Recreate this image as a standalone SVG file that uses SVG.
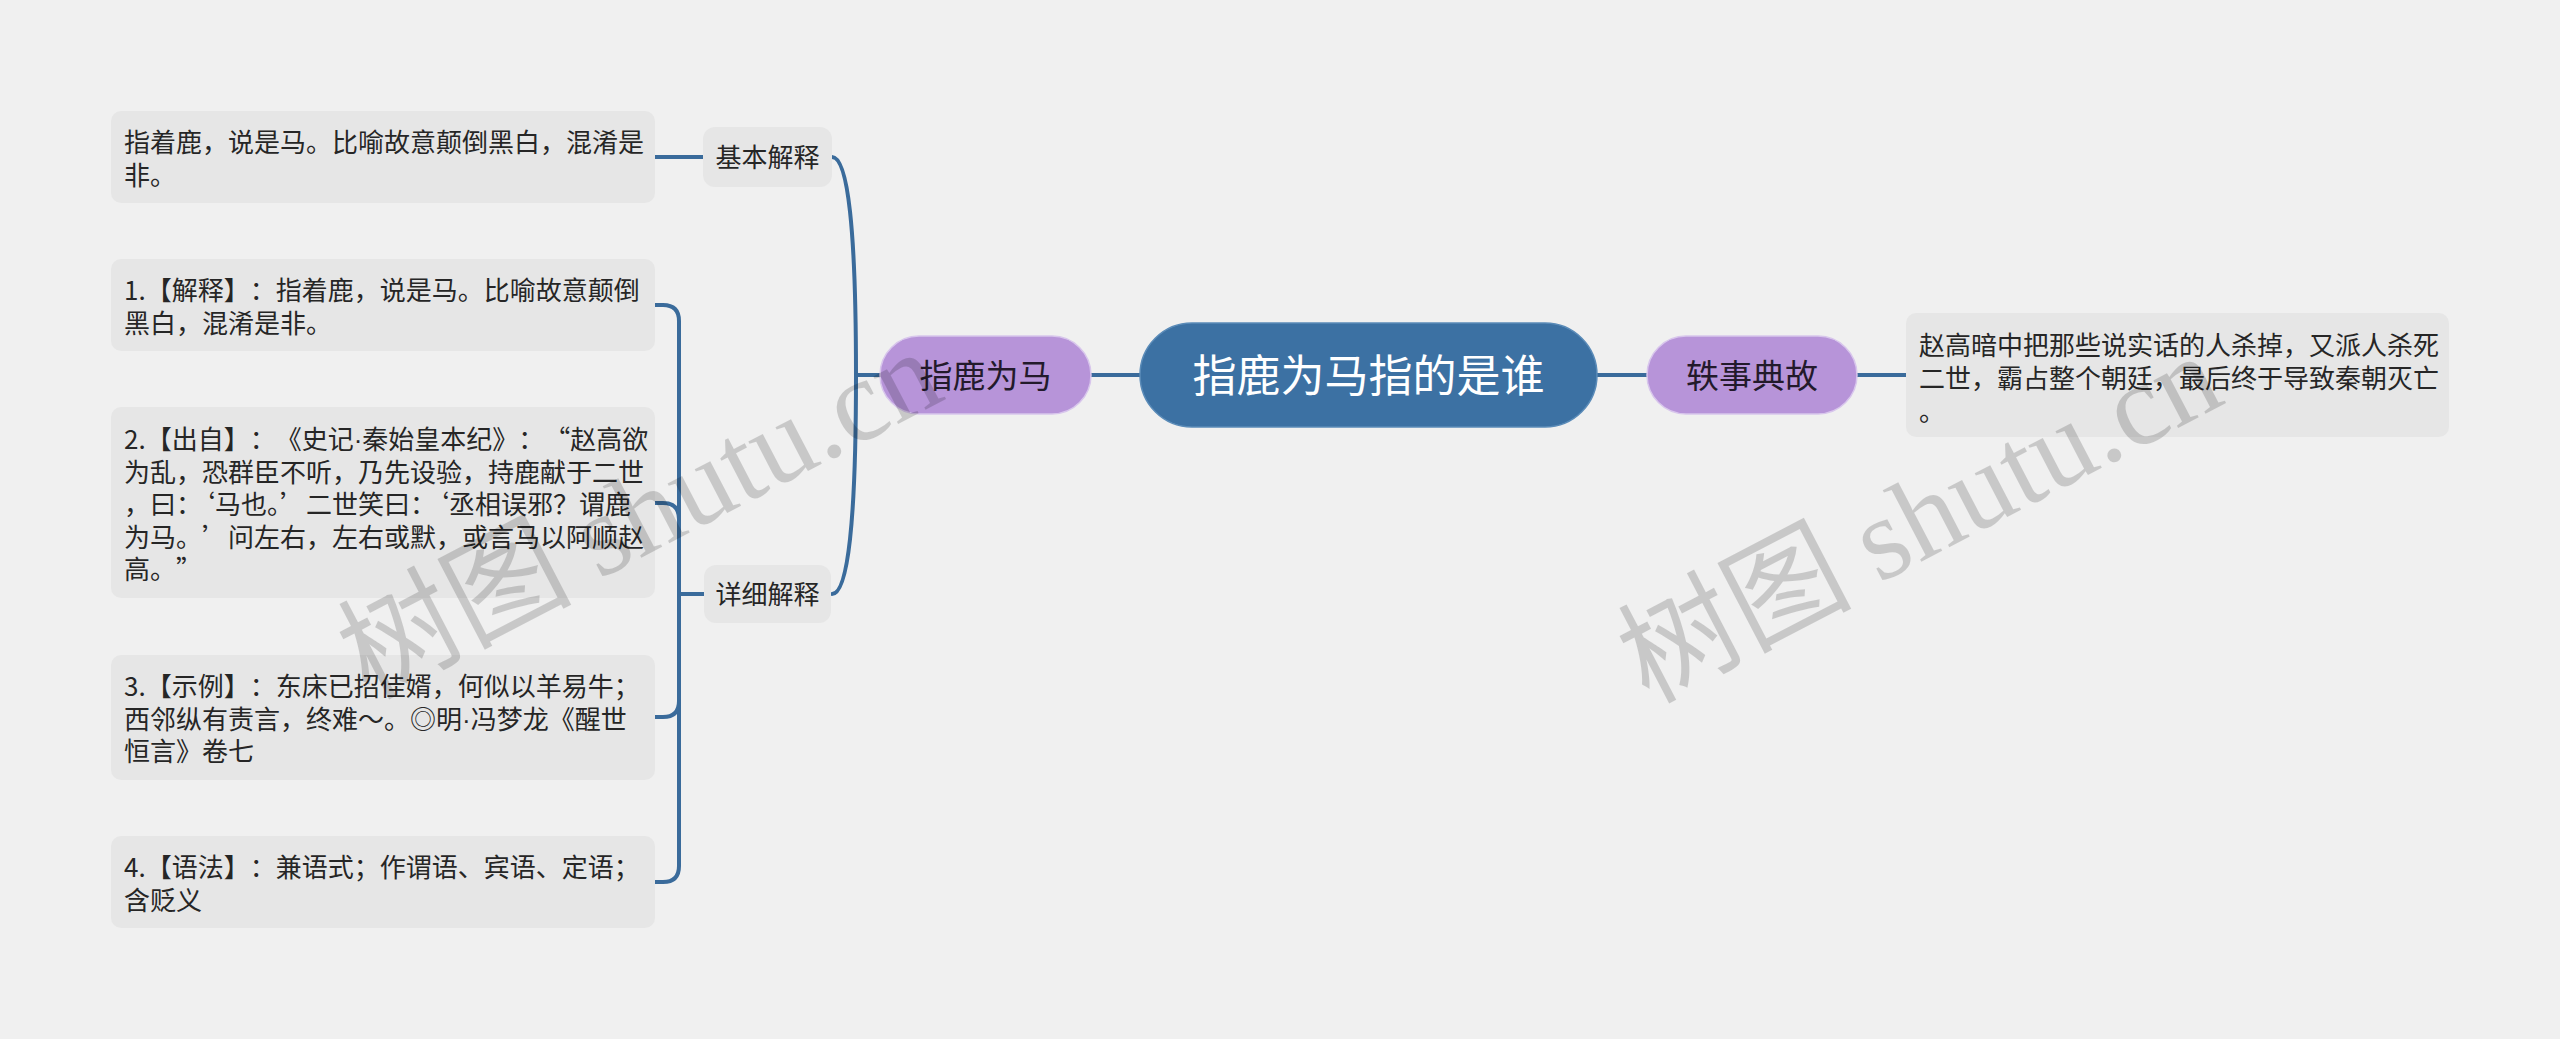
<svg xmlns="http://www.w3.org/2000/svg" width="2560" height="1039" viewBox="0 0 2560 1039">
<style>
.bg{fill:#f0f0f0}
.box{fill:#e6e6e6}
text{text-spacing-trim:space-all}
text.trim{text-spacing-trim:normal}
.t{font-family:"Noto Sans CJK SC","Noto Sans",sans-serif;font-size:26px;fill:#262626}
.d{font-family:"Liberation Sans",sans-serif}
.sub{fill:#e6e6e6}
.pur{fill:#b794d9;stroke:#d8c6ec;stroke-width:1.5}
.pt{font-family:"Noto Sans CJK SC",sans-serif;font-size:33px;fill:#231a2b;text-anchor:middle}
.ct{font-family:"Noto Sans CJK SC",sans-serif;font-size:44px;fill:#ffffff;text-anchor:middle}
.st{font-family:"Noto Sans CJK SC",sans-serif;font-size:26px;fill:#262626;text-anchor:middle}
.ln{fill:none;stroke:#3a6b9b;stroke-width:4;stroke-linecap:round}
.wm{font-family:"Noto Sans CJK SC",sans-serif;font-size:117px;fill:#000;opacity:0.16}
.wml{font-family:"Liberation Serif",serif}
</style>
<rect class="bg" x="0" y="0" width="2560" height="1039"/>

<g id="connectors">
<path class="ln" d="M1140 375 L1091 375"/>
<path class="ln" d="M1597 375 L1647 375"/>
<path class="ln" d="M1857 375 L1906 375"/>
<path class="ln" d="M880 375 L856 375"/>
<path class="ln" d="M856 375 Q856 157 832 157"/>
<path class="ln" d="M856 375 Q856 594 832 594"/>
<path class="ln" d="M655 157 L703 157"/>
<path class="ln" d="M704 594 L679 594"/>
<path class="ln" d="M655 305 L663 305 Q679 305 679 321 L679 866 Q679 882 663 882 L655 882"/>
<path class="ln" d="M655 503 L663 503 Q679 503 679 519"/>
<path class="ln" d="M655 717 L663 717 Q679 717 679 701"/>
</g>

<g id="center">
<rect x="1140" y="323" width="457" height="104" rx="52" fill="#3c71a3" stroke="#5a8bb8" stroke-width="1.5"/>
<text class="ct" x="1368.5" y="392">指鹿为马指的是谁</text>
</g>

<g id="n-zlwm">
<rect class="pur" x="880" y="336" width="211" height="78" rx="39"/>
<text class="pt" x="985.5" y="387.5">指鹿为马</text>
</g>

<g id="n-yishi">
<rect class="pur" x="1647" y="336" width="210" height="78" rx="39"/>
<text class="pt" x="1752" y="387.5">轶事典故</text>
</g>

<g id="n-jiben">
<rect class="sub" x="703" y="127" width="129" height="60" rx="12"/>
<text class="st" x="767.5" y="167">基本解释</text>
</g>

<g id="n-xiangxi">
<rect class="sub" x="704" y="565" width="127" height="58" rx="12"/>
<text class="st" x="767.5" y="604">详细解释</text>
</g>

<g id="b1">
<rect class="box" x="111" y="111" width="544" height="92" rx="10"/>
<text class="t" x="124" y="152"><tspan x="124" dy="0">指着鹿，说是马。比喻故意颠倒黑白，混淆是</tspan><tspan x="124" dy="32.5">非。</tspan></text>
</g>

<g id="b2">
<rect class="box" x="111" y="259" width="544" height="92" rx="10"/>
<text class="t" x="124" y="300"><tspan x="124" dy="0">1.【解释】：指着鹿，说是马。比喻故意颠倒</tspan><tspan x="124" dy="32.5">黑白，混淆是非。</tspan></text>
</g>

<g id="b3">
<rect class="box" x="111" y="407" width="544" height="191" rx="10"/>
<text class="t" x="124" y="449"><tspan x="124" dy="0">2.【出自】：《史记<tspan class="d">·</tspan>秦始皇本纪》：“赵高欲</tspan><tspan x="124" dy="32.5">为乱，恐群臣不听，乃先设验，持鹿献于二世</tspan></text>
<text class="t trim" x="124" y="514">，曰：‘马也。’二世笑曰：‘丞相误邪？谓鹿</text>
<text class="t" x="124" y="546.5"><tspan x="124" dy="0">为马。’问左右，左右或默，或言马以阿顺赵</tspan><tspan x="124" dy="32.5">高。”</tspan></text>
</g>

<g id="b4">
<rect class="box" x="111" y="655" width="544" height="125" rx="10"/>
<text class="t" x="124" y="696"><tspan x="124" dy="0">3.【示例】：东床已招佳婿，何似以羊易牛；</tspan><tspan x="124" dy="32.5">西邻纵有责言，终难～。◎明<tspan class="d">·</tspan>冯梦龙《醒世</tspan><tspan x="124" dy="32.5">恒言》卷七</tspan></text>
</g>

<g id="b5">
<rect class="box" x="111" y="836" width="544" height="92" rx="10"/>
<text class="t" x="124" y="877"><tspan x="124" dy="0">4.【语法】：兼语式；作谓语、宾语、定语；</tspan><tspan x="124" dy="32.5">含贬义</tspan></text>
</g>

<g id="b6">
<rect class="box" x="1906" y="313" width="543" height="124" rx="10"/>
<text class="t" x="1919" y="355"><tspan x="1919" dy="0">赵高暗中把那些说实话的人杀掉，又派人杀死</tspan><tspan x="1919" dy="33">二世，霸占整个朝廷，最后终于导致秦朝灭亡</tspan><tspan x="1919" dy="33">。</tspan></text>
</g>

<g id="watermarks">
<text class="wm" transform="translate(368,700) rotate(-27.5)">树图 <tspan class="wml">shutu.cn</tspan></text>
<text class="wm" transform="translate(1648,704) rotate(-27.5)">树图 <tspan class="wml">shutu.cn</tspan></text>
</g>
</svg>
